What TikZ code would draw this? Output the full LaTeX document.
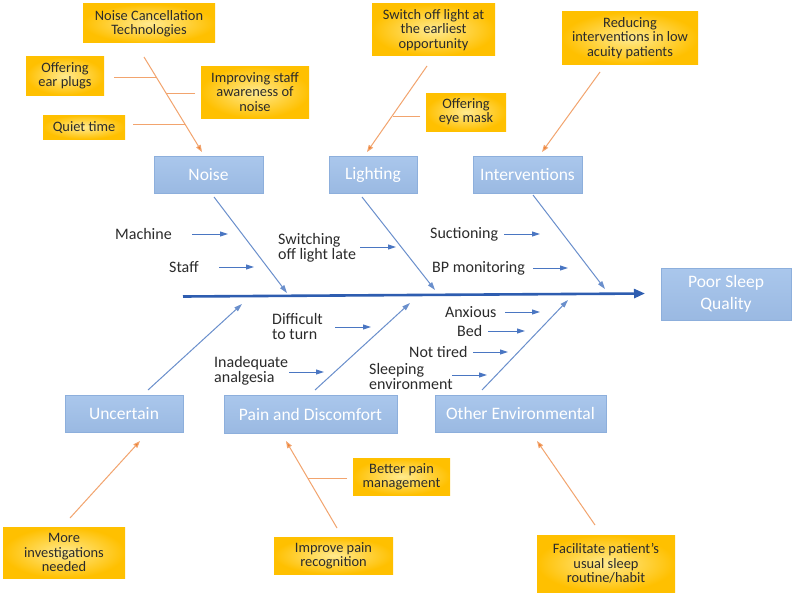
\documentclass[tikz,border=0pt]{standalone}
\usepackage{fontspec}
\setmainfont{Carlito}
\usetikzlibrary{arrows.meta}
\definecolor{yin}{HTML}{FFEA8F}
\definecolor{yout}{HTML}{FFC000}
\definecolor{btop}{HTML}{AAC7EC}
\definecolor{bbot}{HTML}{9AB9E2}
\definecolor{bedge}{HTML}{8DAFDC}
\definecolor{bline}{HTML}{6A8FCC}
\definecolor{barrow}{HTML}{4A76C2}
\definecolor{spine}{HTML}{2E5DB0}
\definecolor{oline}{HTML}{F2A46E}
\definecolor{otip}{HTML}{EE7F2D}
\definecolor{txt}{HTML}{2B2B2B}
\tikzset{
  ybox/.style={shading=radial, inner color=yin, outer color=yout, inner sep=0pt, align=center,
    text=txt, font=\fontsize{14.4}{14.3}\selectfont},
  bbox/.style={top color=btop, bottom color=bbot, draw=bedge, line width=0.8pt, inner sep=0pt,
    align=center, text=white, font=\fontsize{17.5}{22}\selectfont},
  lbl/.style={anchor=west, inner sep=0pt, align=left, text=txt, font=\fontsize{16}{15}\selectfont},
  branch/.style={draw=bline, line width=1pt, -{Triangle[length=8pt,width=5pt]}, color=bline},
  small/.style={draw=barrow, line width=1pt, -{Triangle[length=8pt,width=5pt]}, color=barrow},
  oarrow/.style={draw=oline, line width=1pt, -{Triangle[length=7pt,width=5pt,fill=otip]}},
  oline/.style={draw=oline, line width=1pt},
}
\begin{document}
\begin{tikzpicture}[x=1pt,y=-1pt]
\useasboundingbox[fill=white] (0,0) rectangle (794,594);

% yellow boxes
\node[ybox, minimum width=132pt, minimum height=39pt] (nct) at (149,23.5) {Noise Cancellation\\Technologies};
\node[ybox, minimum width=78pt, minimum height=38pt] (plugs) at (65,76) {Offering\\ear plugs};
\node[ybox, minimum width=108pt, minimum height=52pt] (staffaw) at (255,92) {Improving staff\\awareness of\\noise};
\node[ybox, minimum width=82pt, minimum height=24pt] (quiet) at (84,127) {Quiet time};
\node[ybox, minimum width=123pt, minimum height=52pt] (switch) at (433.5,30) {Switch off light at\\the earliest\\opportunity};
\node[ybox, minimum width=80pt, minimum height=38pt] (eyemask) at (466,112) {Offering\\eye mask};
\node[ybox, minimum width=136pt, minimum height=52pt] (reduce) at (630,38) {Reducing\\interventions in low\\acuity patients};
\node[ybox, minimum width=122pt, minimum height=51pt] (more) at (64,552.5) {More\\investigations\\needed};
\node[ybox, minimum width=97pt, minimum height=37pt] (better) at (401.5,476.5) {Better pain\\management};
\node[ybox, minimum width=119pt, minimum height=37pt] (improve) at (333.5,555.5) {Improve pain\\recognition};
\node[ybox, minimum width=138pt, minimum height=57pt] (facil) at (606,563.5) {Facilitate patient’s\\usual sleep\\routine/habit};

% blue boxes
\node[bbox, minimum width=109pt, minimum height=37pt] (noise) at (208.5,174.5) {Noise};
\node[bbox, minimum width=88pt, minimum height=37pt] (lighting) at (373,174.5) {Lighting};
\node[bbox, minimum width=109pt, minimum height=37pt] (interv) at (527.5,174.5) {Interventions};
\node[bbox, minimum width=130pt, minimum height=52pt] (poor) at (726,294) {Poor Sleep\\Quality};
\node[bbox, minimum width=118pt, minimum height=37pt] (uncertain) at (124,413.5) {Uncertain};
\node[bbox, minimum width=173pt, minimum height=38pt] (pain) at (310.5,414) {Pain and Discomfort};
\node[bbox, minimum width=171pt, minimum height=37pt] (other) at (520.5,413.5) {Other Environmental};

% cause labels
\node[lbl] (machine) at (115,234) {Machine};
\node[lbl] (staff) at (169,267) {Staff};
\node[lbl] (switching) at (278,247.5) {Switching\\off light late};
\node[lbl] (suction) at (430,234) {Suctioning};
\node[lbl] (bp) at (432,268) {BP monitoring};
\node[lbl] (anxious) at (445,312) {Anxious};
\node[lbl] (bed) at (457,331) {Bed};
\node[lbl] (nottired) at (409,352) {Not tired};
\node[lbl] (sleepenv) at (369,376.5) {Sleeping\\environment};
\node[lbl] (difficult) at (272,326) {Difficult\\to turn};
\node[lbl] (inadequate) at (214,370.5) {Inadequate\\analgesia};

% spine
\coordinate (sp0) at (183,296.5);
\coordinate (sp1) at (645,293.5);
\draw[draw=spine, line width=2.6pt, -{Triangle[length=11pt,width=9pt]}, color=spine] (sp0) -- (sp1);

% main branches
\coordinate (nb0) at (214,197); \coordinate (nb1) at (287,293);
\coordinate (lb0) at (362,197); \coordinate (lb1) at (435,290);
\coordinate (ib0) at (533,195); \coordinate (ib1) at (605,289);
\coordinate (ub0) at (148,390); \coordinate (ub1) at (242,304);
\coordinate (pb0) at (315,390); \coordinate (pb1) at (410,303);
\coordinate (ob0) at (482,390); \coordinate (ob1) at (568,300);
\draw[branch] (nb0) -- (nb1);
\draw[branch] (lb0) -- (lb1);
\draw[branch] (ib0) -- (ib1);
\draw[branch] (ub0) -- (ub1);
\draw[branch] (pb0) -- (pb1);
\draw[branch] (ob0) -- (ob1);

% small cause arrows
\draw[small] (192,234) coordinate (m0) -- (228,234) coordinate (m1);
\draw[small] (219,267) coordinate (s0) -- (254,267) coordinate (s1);
\draw[small] (360,247) coordinate (w0) -- (396,247) coordinate (w1);
\draw[small] (504,234) coordinate (su0) -- (540,234) coordinate (su1);
\draw[small] (533,268) coordinate (bp0) -- (568,268) coordinate (bp1);
\draw[small] (505,312) coordinate (ax0) -- (540,312) coordinate (ax1);
\draw[small] (488,331) coordinate (bd0) -- (525,331) coordinate (bd1);
\draw[small] (473,352) coordinate (nt0) -- (508,352) coordinate (nt1);
\draw[small] (452,375) coordinate (se0) -- (487,375) coordinate (se1);
\draw[small] (335,327) coordinate (dt0) -- (371,327) coordinate (dt1);
\draw[small] (289,372) coordinate (ia0) -- (324,372) coordinate (ia1);

% orange solution arrows
\coordinate (o1a) at (144,57); \coordinate (o1b) at (202,152);
\draw[oarrow] (o1a) -- (o1b);
\draw[oline] (114,77) coordinate (pl0) -- (156,77) coordinate (pl1);
\draw[oline] (195,93) coordinate (sa0) -- (166,93) coordinate (sa1);
\draw[oline] (133,124) coordinate (qt0) -- (185,124) coordinate (qt1);

\coordinate (o2a) at (427,66); \coordinate (o2b) at (367,152);
\draw[oarrow] (o2a) -- (o2b);
\draw[oline] (420,116) coordinate (em0) -- (393,116) coordinate (em1);

\coordinate (o3a) at (600,72); \coordinate (o3b) at (542,152);
\draw[oarrow] (o3a) -- (o3b);

\coordinate (o4a) at (70,518); \coordinate (o4b) at (140,441);
\draw[oarrow] (o4a) -- (o4b);

\coordinate (o5a) at (337,528); \coordinate (o5b) at (286,441);
\draw[oarrow] (o5a) -- (o5b);
\draw[oline] (347,478) coordinate (bt0) -- (308,478) coordinate (bt1);

\coordinate (o6a) at (595,525); \coordinate (o6b) at (537,441);
\draw[oarrow] (o6a) -- (o6b);
\end{tikzpicture}
\end{document}
